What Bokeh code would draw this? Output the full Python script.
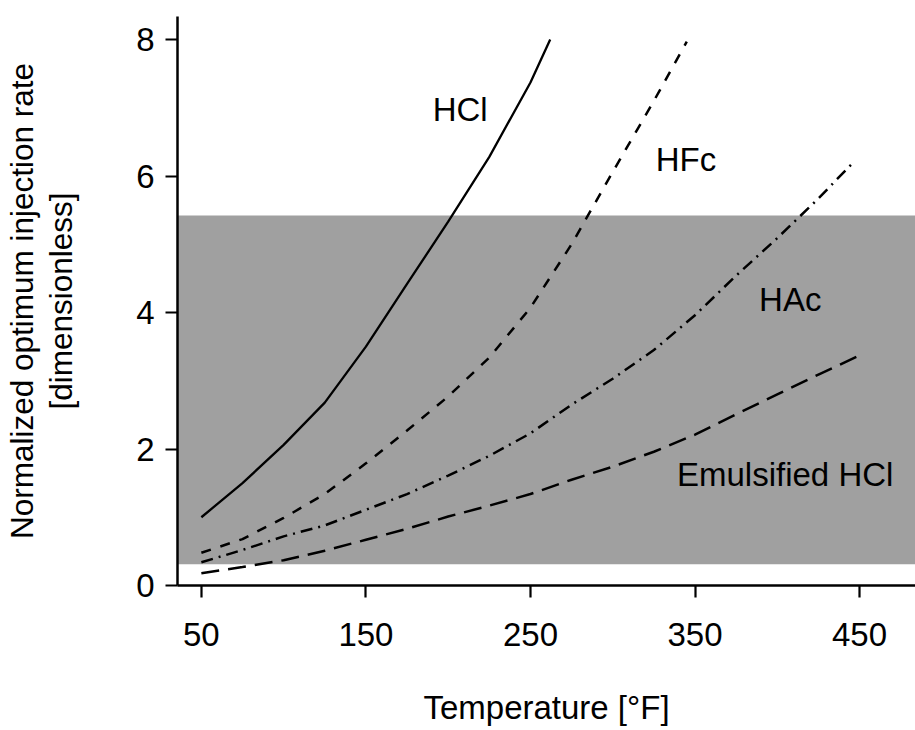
from bokeh.plotting import figure
from bokeh.models import Range1d, BoxAnnotation, ColumnDataSource, FixedTicker
from bokeh.core.properties import value
from bokeh.embed import file_html
from bokeh.resources import INLINE

# ---- data ----
hcl_x = [50, 75, 100, 125, 150, 175, 200, 225, 250, 262]
hcl_y = [1.0, 1.5, 2.06, 2.68, 3.5, 4.42, 5.33, 6.28, 7.37, 8.0]

hfc_x = [50, 75, 100, 125, 150, 175, 200, 225, 250, 275, 300, 325, 345]
hfc_y = [0.48, 0.68, 0.99, 1.34, 1.79, 2.27, 2.77, 3.34, 4.07, 5.0, 6.06, 7.1, 7.97]

hac_x = [50, 75, 100, 125, 150, 175, 200, 225, 250, 275, 300, 325, 350, 375, 400, 425, 447]
hac_y = [0.34, 0.52, 0.72, 0.88, 1.11, 1.34, 1.61, 1.9, 2.23, 2.65, 3.03, 3.45, 3.96, 4.54, 5.09, 5.67, 6.22]

emu_x = [50, 75, 100, 125, 150, 175, 200, 225, 250, 275, 300, 325, 350, 375, 400, 425, 449]
emu_y = [0.18, 0.27, 0.37, 0.51, 0.67, 0.83, 1.01, 1.17, 1.34, 1.55, 1.74, 1.96, 2.21, 2.51, 2.8, 3.09, 3.36]

band_bottom = 0.31
band_top = 5.42

x_ticks = [50, 150, 250, 350, 450]
y_ticks = [0, 2, 4, 6, 8]

label_text = ["HCl", "HFc", "HAc", "Emulsified HCl"]
label_x = [207.3, 344.5, 407.9, 404.8]
label_y = [6.98, 6.24, 4.185, 1.62]

FONT = "Liberation Sans"

p = figure(width=915, height=730,
           x_range=Range1d(35.5, 484), y_range=Range1d(0, 8.337),
           output_backend="svg", toolbar_location=None,
           min_border_left=175, min_border_right=0,
           min_border_top=16, min_border_bottom=145)

p.grid.visible = False
p.outline_line_color = None
p.background_fill_color = "white"

band = BoxAnnotation(bottom=band_bottom, top=band_top,
                     fill_color="#a0a0a0", fill_alpha=1.0,
                     line_color=None, level="underlay")
p.add_layout(band)

p.line(hcl_x, hcl_y, line_color="black", line_width=2.3)
p.line(hfc_x, hfc_y, line_color="black", line_width=2.5, line_dash="10 10")
p.line(hac_x, hac_y, line_color="black", line_width=2.5, line_dash="12 6 2 6")
p.line(emu_x, emu_y, line_color="black", line_width=2.5, line_dash="18 9")

src = ColumnDataSource(dict(x=label_x, y=label_y, t=label_text))
p.text(x="x", y="y", text="t", source=src, text_font=value(FONT),
       text_font_size="33px", text_align="center",
       text_baseline="alphabetic", text_color="black")

for ax in (p.xaxis[0], p.yaxis[0]):
    ax.axis_line_color = "black"
    ax.axis_line_width = 2.5
    ax.major_tick_line_color = "black"
    ax.major_tick_line_width = 2.2
    ax.major_tick_out = 12
    ax.major_tick_in = 0
    ax.minor_tick_line_color = None
    ax.major_label_text_font = FONT
    ax.major_label_text_font_size = "33px"
    ax.major_label_text_color = "black"
    ax.axis_label_text_font = FONT
    ax.axis_label_text_font_size = "33px"
    ax.axis_label_text_font_style = "normal"
    ax.axis_label_text_color = "black"

p.xaxis.ticker = FixedTicker(ticks=x_ticks)
p.yaxis.ticker = FixedTicker(ticks=y_ticks)
p.xaxis.axis_label = "Temperature [°F]"
p.yaxis.axis_label = "Normalized optimum injection rate\n[dimensionless]"
p.yaxis.axis_label_text_font_size = "31.5px"
p.yaxis.axis_label_text_line_height = 1.1
p.xaxis.major_label_standoff = 25
p.xaxis.axis_label_standoff = 40
p.yaxis.major_label_standoff = 11
p.yaxis.axis_label_standoff = 54

open("out.html", "w").write(file_html(p, INLINE))
